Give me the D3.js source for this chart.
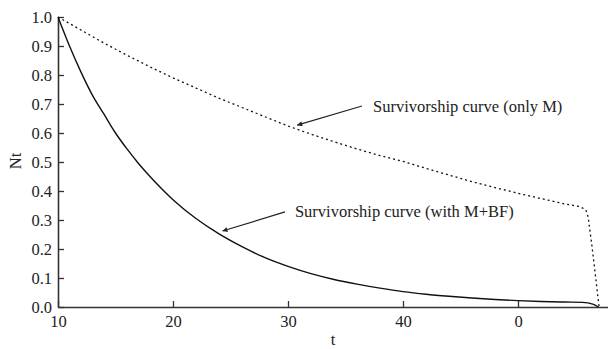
<!DOCTYPE html>
<html>
<head>
<meta charset="utf-8">
<script src="https://cdn.jsdelivr.net/npm/d3@7"></script>
<style>
  body { margin: 0; background: #fff; }
</style>
</head>
<body>
<div id="chart"></div>
<script>
// --------------- Data ---------------
const tOnlyM = [10, 12, 14, 16, 18, 20, 22, 24, 26, 28, 30, 32, 34, 36, 38, 40, 42, 44, 46, 48, 50, 52, 54, 55.4, 55.9, 56.1, 56.4, 56.7, 57.05];
const nOnlyM = [1.0, 0.955, 0.91, 0.868, 0.828, 0.79, 0.755, 0.72, 0.688, 0.656, 0.624, 0.596, 0.57, 0.545, 0.522, 0.502, 0.478, 0.455, 0.432, 0.412, 0.392, 0.374, 0.356, 0.346, 0.335, 0.31, 0.22, 0.12, 0.0];

const tWithBF = [10, 11, 12, 13, 14, 15, 16, 17, 18, 20, 22, 24, 26, 28, 30, 32, 34, 36, 38, 40, 42, 44, 46, 48, 50, 52, 54, 55.6, 56.5, 57.0];
const nWithBF = [1.0, 0.9, 0.81, 0.73, 0.665, 0.6, 0.545, 0.495, 0.45, 0.37, 0.305, 0.252, 0.208, 0.17, 0.14, 0.115, 0.095, 0.079, 0.065, 0.053, 0.044, 0.037, 0.031, 0.026, 0.022, 0.019, 0.017, 0.016, 0.01, 0.0];

const xTicks = [10, 20, 30, 40, 50];
const xTickLabels = ["10", "20", "30", "40", "0"];
const yTicks = [0, 0.1, 0.2, 0.3, 0.4, 0.5, 0.6, 0.7, 0.8, 0.9, 1.0];

// --------------- Constants ---------------
const WIDTH = 608;
const HEIGHT = 349;
const X0 = 58, X1 = 607.7;
const Y0 = 307, Y1 = 17;
const FONT = "\"Liberation Serif\"";
const FONT_SIZE = "16.5px";

const svg = d3.select("#chart").append("svg")
  .attr("width", WIDTH)
  .attr("height", HEIGHT)
  .style("display", "block");

const X_SCALE = d3.scaleLinear().domain([10, 57.8]).range([X0, X1]);
const Y_SCALE = d3.scaleLinear().domain([0, 1]).range([Y0, Y1]);

svg.append("defs").append("marker")
  .attr("id", "arrow")
  .attr("viewBox", "0 0 10 10")
  .attr("refX", 10).attr("refY", 5)
  .attr("markerWidth", 9).attr("markerHeight", 5)
  .attr("markerUnits", "userSpaceOnUse")
  .attr("orient", "auto")
  .append("path")
  .attr("d", "M0,0 L10,5 L0,10 Z")
  .attr("fill", "#222");

// Axes
const xAxis = svg.append("g")
  .attr("transform", `translate(0,${Y0})`)
  .call(d3.axisBottom(X_SCALE)
    .tickValues(xTicks)
    .tickFormat((d, i) => xTickLabels[i])
    .tickSizeInner(-6)
    .tickSizeOuter(0)
    .tickPadding(8));

const yAxis = svg.append("g")
  .attr("transform", `translate(${X0},0)`)
  .call(d3.axisLeft(Y_SCALE)
    .tickValues(yTicks)
    .tickFormat(d3.format(".1f"))
    .tickSizeInner(-6)
    .tickSizeOuter(0)
    .tickPadding(6));

[xAxis, yAxis].forEach((ax) => {
  ax.attr("font-family", null).attr("font-size", null);
  ax.select(".domain").attr("stroke", "#333").attr("stroke-width", 1.6);
  ax.selectAll(".tick line").attr("stroke", "#333").attr("stroke-width", 1.3);
  ax.selectAll(".tick text")
    .attr("fill", "#222")
    .style("font-family", FONT)
    .style("font-size", FONT_SIZE);
});

// Axis titles
svg.append("text")
  .attr("x", 333).attr("y", 345)
  .attr("text-anchor", "middle")
  .style("font-family", FONT)
  .style("font-size", FONT_SIZE)
  .attr("fill", "#222")
  .text("t");

svg.append("text")
  .attr("transform", "translate(21,161) rotate(-90)")
  .attr("text-anchor", "middle")
  .style("font-family", FONT)
  .style("font-size", FONT_SIZE)
  .attr("fill", "#222")
  .text("Nt");

// Curves
const line = d3.line()
  .x((d) => X_SCALE(d[0]))
  .y((d) => Y_SCALE(d[1]))
  .curve(d3.curveMonotoneX);

svg.append("path")
  .datum(d3.zip(tWithBF, nWithBF))
  .attr("d", line)
  .attr("fill", "none")
  .attr("stroke", "#111")
  .attr("stroke-width", 1.4);

svg.append("path")
  .datum(d3.zip(tOnlyM, nOnlyM))
  .attr("d", line.curve(d3.curveLinear))
  .attr("fill", "none")
  .attr("stroke", "#111")
  .attr("stroke-width", 1.3)
  .attr("stroke-dasharray", "2,3");

// Annotations
const notes = [
  { text: "Survivorship curve (only M)", tail: [36.43, 0.693], tip: [30.8, 0.627], at: [37.4, 0.672] },
  { text: "Survivorship curve (with M+BF)", tail: [29.74, 0.328], tip: [24.3, 0.262], at: [30.6, 0.31] }
];

notes.forEach((n) => {
  svg.append("line")
    .attr("x1", X_SCALE(n.tail[0])).attr("y1", Y_SCALE(n.tail[1]))
    .attr("x2", X_SCALE(n.tip[0])).attr("y2", Y_SCALE(n.tip[1]))
    .attr("stroke", "#222")
    .attr("stroke-width", 1.2)
    .attr("marker-end", "url(#arrow)");
  svg.append("text")
    .attr("x", X_SCALE(n.at[0])).attr("y", Y_SCALE(n.at[1]))
    .style("font-family", FONT)
    .style("font-size", FONT_SIZE)
    .attr("fill", "#222")
    .text(n.text);
});
</script>
</body>
</html>
